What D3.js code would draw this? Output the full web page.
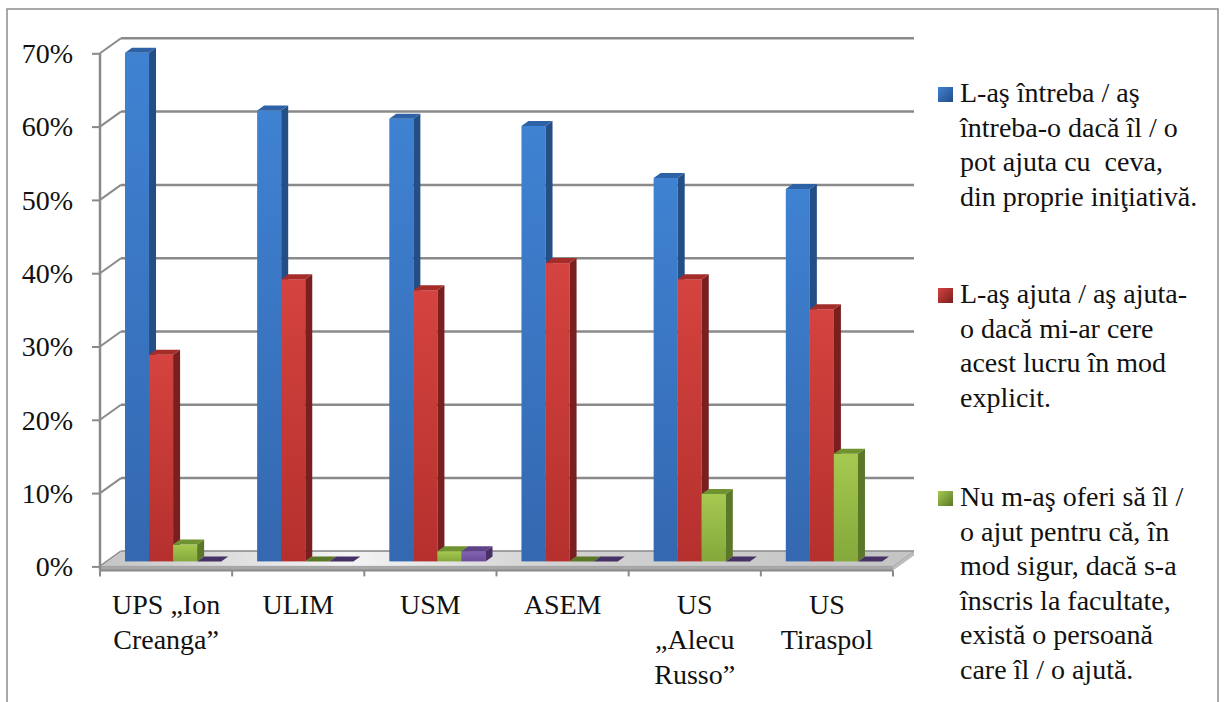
<!DOCTYPE html>
<html>
<head>
<meta charset="utf-8">
<script src="https://cdn.jsdelivr.net/npm/d3@7"></script>
<style>
  html, body { margin: 0; padding: 0; background: #fff; }
  svg text { font-family: "Liberation Serif", "LiberationSerif", "Tinos", "DejaVu Serif", "Noto Serif", "Times New Roman", Times, serif; fill: #111; white-space: pre; }
</style>
</head>
<body>
<svg id="chart" width="1226" height="702"></svg>
<script>
// ---------------- DATA ----------------
const categories = [
  ["UPS „Ion", "Creanga”"],
  ["ULIM"],
  ["USM"],
  ["ASEM"],
  ["US", "„Alecu", "Russo”"],
  ["US", "Tiraspol"]
];
const legendLines = [
  ["L-aş întreba / aş", "întreba-o dacă îl / o", "pot ajuta cu  ceva,", "din proprie iniţiativă."],
  ["L-aş ajuta / aş ajuta-", "o dacă mi-ar cere", "acest lucru în mod", "explicit."],
  ["Nu m-aş oferi să îl /", "o ajut pentru că, în", "mod sigur, dacă s-a", "înscris la facultate,", "există o persoană", "care îl / o ajută."]
];
const seriesBlue   = [69.4, 61.5, 60.4, 59.4, 52.3, 50.8];
const seriesRed    = [28.2, 38.5, 37.0, 40.7, 38.5, 34.4];
const seriesGreen  = [2.3, 0, 1.4, 0, 9.2, 14.7];
const seriesPurple = [0, 0, 1.4, 0, 0, 0];
const tickValues = [0, 10, 20, 30, 40, 50, 60, 70];

// ---------------- STYLE / LAYOUT ----------------
const FONT = "'Liberation Serif', 'LiberationSerif', Tinos, 'DejaVu Serif', 'Noto Serif', 'Times New Roman', Times, serif";
const seriesValues = [seriesBlue, seriesRed, seriesGreen, seriesPurple];
const palette = [
  { f1: "#3f82d2", f2: "#3468b0", side: "#234e86", top: "#2d62a6" },
  { f1: "#d4433f", f2: "#b5302d", side: "#7a1f1f", top: "#a42d2a" },
  { f1: "#a6c951", f2: "#84a83a", side: "#5a7828", top: "#6f9331" },
  { f1: "#8463b4", f2: "#6a4c98", side: "#463064", top: "#5e4388" }
];
const FX0 = 100, FX1 = 893;
const DX = 21, DY = -15;          // depth of the floor/walls
const BDX = DX / 3, BDY = DY / 3; // bar offset / bar depth
const SLAB = 4;

const svg = d3.select("#chart");
const defs = svg.append("defs");

palette.forEach((p, i) => {
  const g = defs.append("linearGradient").attr("id", "bar" + i)
    .attr("x1", 0).attr("y1", 0).attr("x2", 0).attr("y2", 1);
  g.append("stop").attr("offset", "0%").attr("stop-color", p.f1);
  g.append("stop").attr("offset", "100%").attr("stop-color", p.f2);
  const l = defs.append("linearGradient").attr("id", "leg" + i)
    .attr("x1", 0).attr("y1", 0).attr("x2", 1).attr("y2", 1);
  l.append("stop").attr("offset", "0%").attr("stop-color", p.f1);
  l.append("stop").attr("offset", "100%").attr("stop-color", p.side);
});
const fg = defs.append("linearGradient").attr("id", "floorGrad")
  .attr("x1", 0).attr("y1", 0).attr("x2", 1).attr("y2", 0);
[["0%", "#c4c4c4"], ["30%", "#f4f4f4"], ["55%", "#d2d2d2"], ["100%", "#c4c4c4"]]
  .forEach(([o, c]) => fg.append("stop").attr("offset", o).attr("stop-color", c));

// scales
const x = d3.scaleBand().domain(d3.range(categories.length)).range([FX0, FX1]).padding(0);
const inner = d3.scaleBand().domain(d3.range(seriesValues.length))
  .range([x.bandwidth() * 0.136, x.bandwidth() * 0.864]).padding(0);
const y = d3.scaleLinear().domain([0, 70]).range([566.4, 53.3]);

// outer border
svg.append("rect").attr("x", 7).attr("y", 9).attr("width", 1211).attr("height", 760)
  .attr("fill", "none").attr("stroke", "#8c8c8c").attr("stroke-width", 1.5);

// back wall gridlines
const gridG = svg.append("g");
gridG.selectAll("line.grid").data(tickValues).join("line")
  .attr("x1", FX0 + DX).attr("x2", FX1 + DX)
  .attr("y1", d => y(d) + DY).attr("y2", d => y(d) + DY)
  .attr("stroke", "#8a8a8a").attr("stroke-width", 2.5);
gridG.selectAll("line.side").data(tickValues).join("line")
  .attr("x1", FX0).attr("x2", FX0 + DX)
  .attr("y1", d => y(d)).attr("y2", d => y(d) + DY)
  .attr("stroke", "#8a8a8a").attr("stroke-width", 2);

// floor
const y0 = y(0);
svg.append("polygon")
  .attr("points", [[FX0, y0], [FX1, y0], [FX1 + DX, y0 + DY], [FX0 + DX, y0 + DY]].map(p => p.join(",")).join(" "))
  .attr("fill", "url(#floorGrad)").attr("stroke", "#9a9a9a").attr("stroke-width", 1);
svg.append("rect").attr("x", FX0).attr("y", y0).attr("width", FX1 - FX0).attr("height", SLAB)
  .attr("fill", "#a8a8a8");
svg.append("polygon")
  .attr("points", [[FX1, y0], [FX1 + DX, y0 + DY], [FX1 + DX, y0 + DY + SLAB], [FX1, y0 + SLAB]].map(p => p.join(",")).join(" "))
  .attr("fill", "#bcbcbc");

// bars
const barsG = svg.append("g");
categories.forEach((c, ci) => {
  seriesValues.forEach((vals, si) => {
    const v = vals[ci];
    const p = palette[si];
    const xl = x(ci) + inner(si) + BDX;
    const xr = xl + inner.bandwidth();
    const yb = y(0) + BDY;
    const yt = y(v) + BDY;
    const g = barsG.append("g");
    if (v > 0) {
      g.append("rect").attr("x", xl).attr("y", yt).attr("width", xr - xl).attr("height", yb - yt)
        .attr("fill", `url(#bar${si})`);
      g.append("polygon")
        .attr("points", [[xr, yt], [xr + BDX, yt + BDY], [xr + BDX, yb + BDY], [xr, yb]].map(q => q.join(",")).join(" "))
        .attr("fill", p.side);
    }
    g.append("polygon")
      .attr("points", [[xl, yt], [xl + BDX, yt + BDY], [xr + BDX, yt + BDY], [xr, yt]].map(q => q.join(",")).join(" "))
      .attr("fill", v > 0 ? p.top : p.side);
  });
});

// left value axis
const yAxis = d3.axisLeft(y).tickValues(tickValues).tickSize(8).tickFormat(d => d + "%");
const ya = svg.append("g").attr("transform", `translate(${FX0},0)`).call(yAxis)
  .attr("font-family", FONT).attr("font-size", 28);
ya.select(".domain").remove();
ya.selectAll(".tick line").attr("stroke", "#8a8a8a").attr("stroke-width", 2);
ya.selectAll(".tick text").attr("x", -27).attr("dy", "0.33em")
  .style("font-size", "28px").style("font-family", FONT).attr("fill", "#111");
svg.append("line").attr("x1", FX0).attr("x2", FX0).attr("y1", y(70)).attr("y2", y0 + SLAB)
  .attr("stroke", "#8a8a8a").attr("stroke-width", 2.5);

// category axis
const boundaries = d3.range(categories.length + 1).map(i => i < categories.length ? x(i) : FX1);
svg.append("line").attr("x1", FX0).attr("x2", FX1).attr("y1", y0 + SLAB).attr("y2", y0 + SLAB)
  .attr("stroke", "#8a8a8a").attr("stroke-width", 2);
svg.selectAll("line.ctick").data(boundaries).join("line")
  .attr("x1", d => d).attr("x2", d => d).attr("y1", y0 + SLAB).attr("y2", y0 + SLAB + 6)
  .attr("stroke", "#8a8a8a").attr("stroke-width", 2);
const catG = svg.append("g");
categories.forEach((lines, ci) => {
  const t = catG.append("text").attr("text-anchor", "middle")
    .attr("x", x(ci) + x.bandwidth() / 2).attr("y", 614)
    .style("font-size", "28px").style("font-family", FONT);
  lines.forEach((ln, li) => t.append("tspan").attr("x", x(ci) + x.bandwidth() / 2)
    .attr("dy", li === 0 ? 0 : 35).text(ln));
});

// legend
const legG = svg.append("g");
const legStarts = [102, 303, 506];
const LH = 34.6;
legendLines.forEach((lines, i) => {
  legG.append("rect").attr("x", 938).attr("y", legStarts[i] - 15).attr("width", 15).attr("height", 15)
    .attr("fill", `url(#leg${i})`);
  const t = legG.append("text").attr("x", 960).attr("y", legStarts[i])
    .style("font-size", "28px").style("font-family", FONT);
  lines.forEach((ln, li) => t.append("tspan").attr("x", 960).attr("dy", li === 0 ? 0 : LH).text(ln));
});
</script>
</body>
</html>
